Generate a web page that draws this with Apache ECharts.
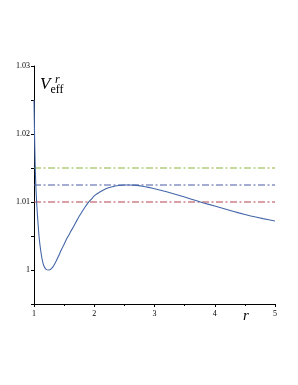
<!DOCTYPE html>
<html><head><meta charset="utf-8">
<script src="https://cdn.jsdelivr.net/npm/echarts@6/dist/echarts.min.js"></script>
<style>html,body{margin:0;padding:0;background:#fff}#c{width:298px;height:385px}</style>
</head><body><div id="c"></div>
<script>
const rValues = [1.0, 1.01, 1.02, 1.03, 1.045, 1.06, 1.08, 1.1, 1.13, 1.16, 1.2, 1.25, 1.3, 1.35, 1.4, 1.45, 1.5, 1.55, 1.6, 1.65, 1.7, 1.75, 1.8, 1.85, 1.9, 1.95, 2.0, 2.1, 2.2, 2.3, 2.4, 2.5, 2.6, 2.7, 2.8, 2.9, 3.0, 3.2, 3.4, 3.6, 3.8, 4.0, 4.2, 4.4, 4.6, 4.8, 5.0];
const vValues = [1.0250, 1.0195, 1.0152, 1.0125, 1.0098, 1.0077, 1.0053, 1.0036, 1.0018, 1.0007, 1.0001, 1.0000, 1.0003, 1.0010, 1.0019, 1.0029, 1.0038, 1.0047, 1.0055, 1.0063, 1.0071, 1.0079, 1.0086, 1.0093, 1.0099, 1.0104, 1.0109, 1.0115, 1.0120, 1.01225, 1.01242, 1.0125, 1.0125, 1.01245, 1.01232, 1.01215, 1.01195, 1.0115, 1.0110, 1.01045, 1.0099, 1.0094, 1.0089, 1.0084, 1.00795, 1.00755, 1.0072];
const levels = [1.015, 1.0125, 1.01];
const levelColors = ['#8cb13e', '#4b5ba6', '#b8404f'];
const xTicks = [1, 2, 3, 4, 5];
const yTickLabels = ['1', '1.01', '1.02', '1.03'];

const chart = echarts.init(document.getElementById('c'), null, {renderer: 'canvas'});
const curve = rValues.map((r, i) => [r, vValues[i]]);
const levelSeries = levels.map((v, i) => ({
  type: 'line', data: [[1, v], [5, v]], symbol: 'none', silent: true,
  lineStyle: {color: levelColors[i], width: 1.2, type: [7, 2.5, 2, 2.5]}, z: 2
}));
chart.setOption({
  animation: false,
  grid: {left: 34, right: 23, top: 66, bottom: 81},
  xAxis: {
    type: 'value', min: 1, max: 5, interval: 1,
    axisLine: {onZero: false, lineStyle: {color: '#000', width: 1}},
    axisTick: {show: true, length: 3, lineStyle: {color: '#000'}},
    minorTick: {show: true, splitNumber: 2, length: 2, lineStyle: {color: '#000'}},
    splitLine: {show: false},
    axisLabel: {fontFamily: 'Liberation Serif', fontSize: 8, color: '#000', margin: 6}
  },
  yAxis: {
    type: 'value', min: 0.995, max: 1.03, interval: 0.005,
    axisLine: {show: true, onZero: false, lineStyle: {color: '#000', width: 1}},
    axisTick: {show: true, length: 3, lineStyle: {color: '#000'}},
    splitLine: {show: false},
    axisLabel: {
      fontFamily: 'Liberation Serif', fontSize: 8, color: '#000', margin: 4,
      formatter: function (v) {
        const k = Math.round((v - 1) / 0.01 * 1000) / 1000;
        if (Math.abs(k - Math.round(k)) < 1e-6 && k >= 0) return yTickLabels[Math.round(k)];
        return '';
      }
    }
  },
  graphic: [
    {type: 'text', left: 243, top: 309, style: {text: 'r', font: 'italic 15px "Liberation Serif"', fill: '#000'}},
    {type: 'text', left: 40, top: 76, style: {
      rich: {
        v: {font: 'italic 17px "Liberation Serif"', fill: '#000'},
        s: {font: '12px "Liberation Serif"', fill: '#000', padding: [10, 0, 0, 0]}
      },
      text: '{v|V}{s|eff}'
    }},
    {type: 'text', left: 55, top: 74, style: {text: 'r', font: 'italic 12px "Liberation Serif"', fill: '#000'}}
  ],
  series: levelSeries.concat([{
    type: 'line', data: curve, symbol: 'none', smooth: 0.15, silent: true,
    lineStyle: {color: '#4466a8', width: 1.1}, z: 3
  }])
});
</script></body></html>
